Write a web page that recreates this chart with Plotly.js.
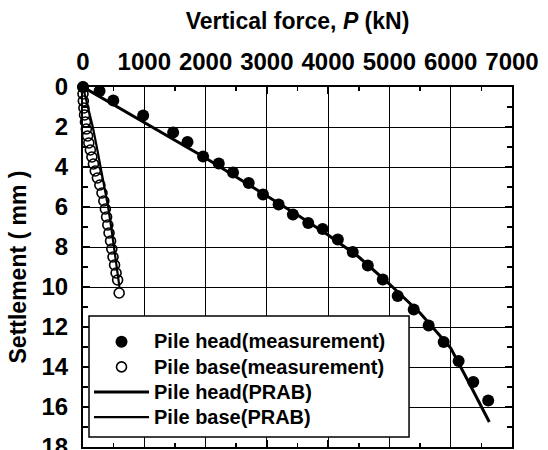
<!DOCTYPE html>
<html>
<head>
<meta charset="utf-8">
<script src="https://cdn.plot.ly/plotly-3.0.1.min.js"></script>
<style>html,body{margin:0;padding:0;background:#fff;}#chart{width:548px;height:450px;}</style>
</head>
<body>
<div id="chart"></div>
<script>
// Pile head measured (load kN, settlement mm)
const headMeasP = [0, 270, 494, 982, 1471, 1705, 1960, 2215, 2448, 2704, 2937, 3192, 3425, 3675, 3910, 4158, 4402, 4647, 4891, 5135, 5396, 5640, 5885, 6129, 6368, 6612];
const headMeasS = [0, 0.2, 0.67, 1.42, 2.28, 2.75, 3.47, 3.83, 4.28, 4.8, 5.37, 5.88, 6.38, 6.8, 7.1, 7.62, 8.25, 8.92, 9.62, 10.45, 11.13, 11.92, 12.75, 13.7, 14.75, 15.67];
// Pile base measured
const baseMeasP = [0, 0, 5, 15, 25, 40, 55, 75, 95, 120, 145, 170, 200, 235, 275, 310, 340, 365, 385, 405, 425, 450, 470, 490, 515, 540, 565, 590];
const baseMeasS = [0, 0.35, 0.7, 1.05, 1.4, 1.75, 2.1, 2.45, 2.8, 3.15, 3.5, 3.85, 4.2, 4.55, 4.9, 5.3, 5.7, 6.1, 6.5, 6.9, 7.3, 7.7, 8.1, 8.5, 8.9, 9.3, 9.65, 10.3];
// Pile head PRAB
const headPrabP = [0, 1000, 2000, 3000, 3500, 4000, 4500, 5000, 5500, 5800, 6000, 6300, 6630];
const headPrabS = [0, 1.77, 3.55, 5.45, 6.4, 7.4, 8.5, 9.85, 11.3, 12.35, 13.05, 14.8, 16.75];
// Pile base PRAB
const basePrabP = [0, 40, 90, 160, 225, 290, 350, 410, 460, 505, 550, 595];
const basePrabS = [0, 0.5, 1, 2, 3, 4, 5, 6, 7, 8, 9, 10];

const xTicks = [0, 1000, 2000, 3000, 4000, 5000, 6000, 7000];
const yTicks = [0, 2, 4, 6, 8, 10, 12, 14, 16, 18];

const FONT = 'Liberation Sans, Arial, Helvetica, sans-serif';
const big = s => '<span style="font-size:20px">' + s + '</span>';

const traces = [
  {x: headMeasP, y: headMeasS, mode: 'markers', name: big('Pile head(measurement)'), cliponaxis: false,
   marker: {symbol: 'circle', size: 12, color: '#000'}},
  {x: baseMeasP, y: baseMeasS, mode: 'markers', name: big('Pile base(measurement)'), cliponaxis: false,
   marker: {symbol: 'circle-open', size: 10, color: '#000', line: {width: 1.6, color: '#000'}}},
  {x: headPrabP, y: headPrabS, mode: 'lines', name: big('Pile head(PRAB)'), line: {color: '#000', width: 3}},
  {x: basePrabP, y: basePrabS, mode: 'lines', name: big('Pile base(PRAB)'), line: {color: '#000', width: 2.2}}
];

const layout = {
  width: 548, height: 450,
  margin: {l: 83, r: 36, t: 87, b: 3, pad: 0},
  paper_bgcolor: '#fff', plot_bgcolor: '#fff',
  font: {family: FONT, color: '#000', size: 24, weight: 'bold'},
  showlegend: true,
  legend: {
    x: 0.014, y: 0.341, xanchor: 'left', yanchor: 'top',
    bgcolor: 'rgba(0,0,0,0)', borderwidth: 0,
    font: {family: FONT, size: 17, color: '#000', weight: 'bold'},
    itemwidth: 55, tracegroupgap: 0
  },
  shapes: [{
    type: 'rect', xref: 'paper', yref: 'paper', layer: 'above',
    x0: 0.014, x1: 0.76, y0: 0.028, y1: 0.364,
    fillcolor: '#fff', line: {color: '#000', width: 1.5}
  }],
  xaxis: {
    side: 'top', range: [0, 7000], tickvals: xTicks, ticktext: xTicks.map(String),
    ticks: 'inside', ticklen: 7, tickwidth: 1.5, tickcolor: '#000',
    minor: {dtick: 500, tick0: 0, ticks: 'inside', ticklen: 4, tickwidth: 1.5, tickcolor: '#000', showgrid: false},
    showline: true, linewidth: 2, linecolor: '#000', mirror: 'allticks',
    showgrid: true, gridcolor: '#000', gridwidth: 1,
    zeroline: false, ticklabelstandoff: 5, ticklabeloverflow: 'allow',
    tickfont: {family: FONT, size: 24, color: '#000', weight: 'bold'},
    title: {text: 'Vertical force, <i>P</i> (kN)', font: {family: FONT, size: 23, color: '#000', weight: 'bold'}, standoff: 12}
  },
  yaxis: {
    range: [18, 0], tickvals: yTicks, ticktext: yTicks.map(String),
    ticks: 'inside', ticklen: 7, tickwidth: 1.5, tickcolor: '#000',
    minor: {dtick: 1, tick0: 0, ticks: 'inside', ticklen: 5, tickwidth: 1.5, tickcolor: '#000', showgrid: false},
    showline: true, linewidth: 2, linecolor: '#000', mirror: 'allticks',
    showgrid: true, gridcolor: '#000', gridwidth: 1,
    zeroline: false, ticklabelstandoff: 8, ticklabeloverflow: 'allow',
    tickfont: {family: FONT, size: 24, color: '#000', weight: 'bold'},
    title: {text: 'Settlement ( mm )', font: {family: FONT, size: 23, color: '#000', weight: 'bold'}, standoff: 8}
  }
};

Plotly.newPlot('chart', traces, layout, {displayModeBar: false, staticPlot: true});
</script>
</body>
</html>
